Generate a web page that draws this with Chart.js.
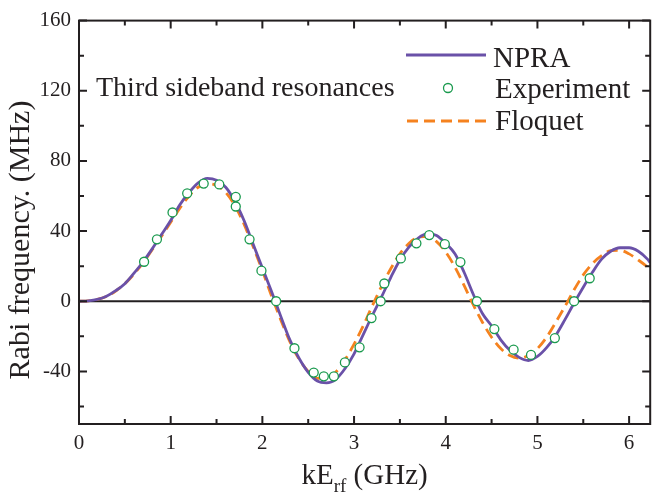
<!DOCTYPE html>
<html>
<head>
<meta charset="utf-8">
<script src="https://cdn.jsdelivr.net/npm/chart.js@4.4.0/dist/chart.umd.min.js"></script>
<style>
html, body { margin: 0; padding: 0; background: #fff; }
</style>
</head>
<body>
<canvas id="graficoRabi" width="656" height="493"></canvas>
<script>
const xTicks = [0, 1, 2, 3, 4, 5, 6];
const yTicks = [-40, 0, 40, 80, 120, 160];
const xMinor = [0.5, 1.5, 2.5, 3.5, 4.5, 5.5];
const yMinor = [-60, -20, 20, 60, 100, 140];

// curvas teóricas
const xCurve = [0, 0.1, 0.2, 0.3, 0.4, 0.5, 0.6, 0.7, 0.8, 0.9,
  1.0, 1.1, 1.2, 1.3, 1.4, 1.5, 1.6, 1.7, 1.8, 1.9,
  2.0, 2.1, 2.2, 2.3, 2.4, 2.5, 2.6, 2.7, 2.8, 2.9,
  3.0, 3.1, 3.2, 3.3, 3.4, 3.5, 3.6, 3.7, 3.8, 3.9,
  4.0, 4.1, 4.2, 4.3, 4.4, 4.5, 4.6, 4.7, 4.8, 4.9,
  5.0, 5.1, 5.2, 5.3, 5.4, 5.5, 5.6, 5.7, 5.8, 5.9,
  6.0, 6.1, 6.2, 6.23];
const npra = [0, 0.2, 1, 2.8, 6, 10, 16, 22.5, 30, 38,
  46, 55, 62, 67.5, 70, 69, 65, 57, 46, 32.5,
  19, 5.5, -8.5, -22, -32.5, -40.5, -45.5, -46.5, -44.5, -38.5,
  -30, -19, -8, 2.5, 13.5, 23.5, 31, 36, 38.5, 37.5,
  33, 27, 16.5, 4, -7, -14, -22, -28, -32, -33.8,
  -31.5, -26.5, -19.5, -10.5, -1, 8, 16.5, 24, 28.5, 30.5,
  30.5, 28.5, 24, 22];
const floquet = [0, 0.2, 1, 2.7, 5.8, 10, 15.5, 22, 29.5, 37,
  45, 53, 60, 65, 67, 66, 62, 54.5, 44, 31,
  17.5, 3, -10.5, -23, -33, -40, -44, -44, -40.5, -33.5,
  -24.5, -14, -2.5, 8.5, 18.5, 27, 33, 36.5, 37, 34,
  28, 19.5, 9, -2, -12, -20.5, -27, -31, -32.5, -31,
  -27, -20.5, -12, -3, 6.5, 15, 21.5, 26, 28.8, 29,
  27, 23.5, 19.5, 18];

// pontos experimentais
const xExp = [0.71, 0.85, 1.02, 1.18, 1.36, 1.53, 1.71, 1.71, 1.86, 1.99,
  2.15, 2.35, 2.56, 2.67, 2.78, 2.90, 3.06, 3.19, 3.29, 3.33,
  3.51, 3.68, 3.82, 3.99, 4.16, 4.34, 4.53, 4.74, 4.93, 5.19,
  5.40, 5.57];
const yExp = [22.5, 35.3, 50.6, 61.5, 67.1, 66.6, 59.5, 54, 35.3, 17.4,
  0, -26.8, -40.7, -42.8, -42.8, -34.9, -26.3, -9.6, 0, 10.1,
  24.4, 33, 37.7, 32.5, 22.3, 0, -15.9, -27.6, -30.6, -21,
  0, 13.1];

const corNPRA = '#6a51a8';
const corExp = '#1a9a4e';
const corFloquet = '#f5821f';
const corTexto = '#231f20';
const fonte = '"Liberation Serif", "Times New Roman", serif';

const molduraPlugin = {
  id: 'moldura',
  beforeDatasetsDraw(chart) {
    const { ctx, chartArea: a, scales: { y } } = chart;
    const y0 = y.getPixelForValue(0);
    ctx.save();
    ctx.strokeStyle = corTexto;
    ctx.lineWidth = 1.8;
    ctx.beginPath();
    ctx.moveTo(a.left, y0);
    ctx.lineTo(a.right, y0);
    ctx.stroke();
    ctx.restore();
  },
  afterDraw(chart) {
    const { ctx, chartArea: a, scales: { x, y } } = chart;
    ctx.save();
    ctx.strokeStyle = corTexto;
    ctx.lineWidth = 2;
    ctx.strokeRect(a.left, a.top, a.right - a.left, a.bottom - a.top);

    // marcas para dentro, nos quatro lados
    function marcaX(v, len) {
      const px = x.getPixelForValue(v);
      ctx.beginPath();
      ctx.moveTo(px, a.bottom); ctx.lineTo(px, a.bottom - len);
      ctx.moveTo(px, a.top); ctx.lineTo(px, a.top + len);
      ctx.stroke();
    }
    function marcaY(v, len) {
      const py = y.getPixelForValue(v);
      ctx.beginPath();
      ctx.moveTo(a.left, py); ctx.lineTo(a.left + len, py);
      ctx.moveTo(a.right, py); ctx.lineTo(a.right - len, py);
      ctx.stroke();
    }
    xTicks.forEach(v => marcaX(v, 8));
    xMinor.forEach(v => marcaX(v, 5));
    yTicks.forEach(v => marcaY(v, 8));
    yMinor.forEach(v => marcaY(v, 5));

    ctx.fillStyle = corTexto;

    // título do eixo y
    ctx.save();
    ctx.translate(29, 240);
    ctx.rotate(-Math.PI / 2);
    ctx.font = '30px ' + fonte;
    ctx.textAlign = 'center';
    ctx.textBaseline = 'alphabetic';
    ctx.fillText('Rabi frequency. (MHz)', 0, 0);
    ctx.restore();

    // título do eixo x com subscrito
    ctx.textAlign = 'left';
    ctx.textBaseline = 'alphabetic';
    const fGrande = '29px ' + fonte;
    const fPequena = '19px ' + fonte;
    ctx.font = fGrande;
    const w1 = ctx.measureText('kE').width;
    const w3 = ctx.measureText(' (GHz)').width;
    ctx.font = fPequena;
    const w2 = ctx.measureText('rf').width;
    let xt = (a.left + a.right) / 2 - (w1 + w2 + w3) / 2;
    const base = 484;
    ctx.font = fGrande;
    ctx.fillText('kE', xt, base);
    xt += w1;
    ctx.font = fPequena;
    ctx.fillText('rf', xt, base + 8);
    xt += w2;
    ctx.font = fGrande;
    ctx.fillText(' (GHz)', xt, base);

    // anotação
    ctx.font = '28px ' + fonte;
    ctx.fillText('Third sideband resonances', 96, 96);

    // legenda
    ctx.font = '29px ' + fonte;
    ctx.fillText('NPRA', 493, 67);
    ctx.fillText('Experiment', 495, 98);
    ctx.fillText('Floquet', 495, 130);

    ctx.lineWidth = 2.8;
    ctx.strokeStyle = corNPRA;
    ctx.beginPath(); ctx.moveTo(406, 55); ctx.lineTo(486, 55); ctx.stroke();
    ctx.strokeStyle = corFloquet;
    ctx.setLineDash([11, 6]);
    ctx.beginPath(); ctx.moveTo(407, 121); ctx.lineTo(488, 121); ctx.stroke();
    ctx.setLineDash([]);
    ctx.lineWidth = 1.3;
    ctx.strokeStyle = corExp;
    ctx.fillStyle = '#fff';
    ctx.beginPath(); ctx.arc(448, 88, 4.5, 0, Math.PI * 2); ctx.fill(); ctx.stroke();
    ctx.restore();
  }
};

document.addEventListener('DOMContentLoaded', function () {
  const dados = {
    datasets: [{
      label: 'Experiment',
      data: xExp.map((v, i) => ({ x: v, y: yExp[i] })),
      showLine: false,
      pointRadius: 4.5,
      pointBorderWidth: 1.3,
      pointBorderColor: corExp,
      pointBackgroundColor: '#fff',
      order: 0
    }, {
      label: 'NPRA',
      data: xCurve.map((v, i) => ({ x: v, y: npra[i] })),
      showLine: true,
      borderColor: corNPRA,
      borderWidth: 2.8,
      pointRadius: 0,
      cubicInterpolationMode: 'monotone',
      order: 1
    }, {
      label: 'Floquet',
      data: xCurve.map((v, i) => ({ x: v, y: floquet[i] })),
      showLine: true,
      borderColor: corFloquet,
      borderWidth: 2.8,
      borderDash: [11, 6],
      pointRadius: 0,
      cubicInterpolationMode: 'monotone',
      order: 2
    }]
  };

  const configuracao = {
    type: 'scatter',
    data: dados,
    options: {
      responsive: false,
      animation: false,
      devicePixelRatio: 1,
      layout: { padding: { top: 15, right: 2, left: 0, bottom: 0 } },
      plugins: { legend: { display: false }, tooltip: { enabled: false } },
      scales: {
        x: {
          type: 'linear',
          min: 0,
          max: 6.23,
          afterBuildTicks: s => { s.ticks = xTicks.map(v => ({ value: v })); },
          afterFit: s => { s.height = 69; },
          grid: { display: false, drawTicks: false },
          border: { display: false },
          ticks: { font: { family: fonte, size: 21 }, color: corTexto, padding: 7, maxRotation: 0 }
        },
        y: {
          type: 'linear',
          min: -70,
          max: 160,
          afterBuildTicks: s => { s.ticks = yTicks.map(v => ({ value: v })); },
          afterFit: s => { s.width = 79; },
          grid: { display: false, drawTicks: false },
          border: { display: false },
          ticks: { font: { family: fonte, size: 21 }, color: corTexto, padding: 8 }
        }
      }
    },
    plugins: [molduraPlugin]
  };

  new Chart(document.getElementById('graficoRabi'), configuracao);
});
</script>
</body>
</html>
